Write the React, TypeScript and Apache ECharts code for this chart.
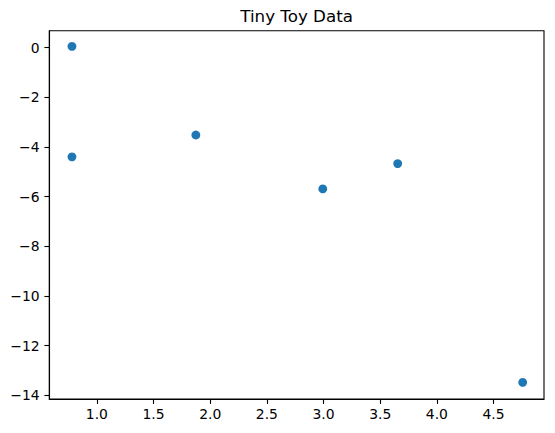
import React, { useEffect, useRef } from "react";
import * as echarts from "echarts";

const xValues = [0.78, 0.78, 1.873, 2.993, 3.654, 4.757];
const yValues = [0.05, -4.4, -3.52, -5.69, -4.67, -13.48];
const xTicks = [1.0, 1.5, 2.0, 2.5, 3.0, 3.5, 4.0, 4.5];
const yTicks = [0, -2, -4, -6, -8, -10, -12, -14];
const title = "Tiny Toy Data";

const FONT = "DejaVu Sans";

export default function App() {
  const ref = useRef<HTMLDivElement>(null);
  useEffect(() => {
    if (!ref.current) return;
    const chart = echarts.init(ref.current, undefined, { renderer: "svg" });
    const points = xValues.map((x, i) => [x, yValues[i]]);
    const fmtNum = (v: number, d: number) => {
      const s = Math.abs(v).toFixed(d);
      return v < 0 ? "\u2212" + s : s;
    };
    chart.setOption({
      animation: false,
      backgroundColor: "#ffffff",
      grid: {
        left: 49.3,
        right: 11,
        top: 30.7,
        bottom: 34,
        containLabel: false,
        show: true,
        borderColor: "#000000",
        borderWidth: 1.1,
        backgroundColor: "transparent",
      },
      graphic: [
        {
          type: "text",
          x: 296.6,
          y: 16,
          style: {
            text: title,
            font: `16.7px "${FONT}"`,
            fill: "#000000",
            textAlign: "center",
            textVerticalAlign: "middle",
          },
        },
      ],
      xAxis: {
        type: "value",
        min: 0.58,
        max: 4.945,
        splitLine: { show: false },
        axisLine: { show: true, onZero: false, lineStyle: { color: "#000", width: 1.1 } },
        axisTick: {
          show: true,
          length: 4.9,
          inside: false,
          customValues: xTicks,
          lineStyle: { color: "#000", width: 1.1 },
        },
        axisLabel: {
          customValues: xTicks,
          margin: 8,
          fontFamily: FONT,
          fontSize: 13.9,
          color: "#000",
          formatter: (v: number) => fmtNum(v, 1),
        },
      },
      yAxis: {
        type: "value",
        min: -14.15,
        max: 0.68,
        splitLine: { show: false },
        axisLine: { show: true, onZero: false, lineStyle: { color: "#000", width: 1.1 } },
        axisTick: {
          show: true,
          length: 4.9,
          inside: false,
          customValues: yTicks,
          lineStyle: { color: "#000", width: 1.1 },
        },
        axisLabel: {
          customValues: yTicks,
          margin: 9.7,
          fontFamily: FONT,
          fontSize: 13.9,
          color: "#000",
          formatter: (v: number) => fmtNum(v, 0),
        },
      },
      series: [
        {
          type: "scatter",
          data: points,
          symbol: "circle",
          symbolSize: 8.8,
          itemStyle: { color: "#1f77b4", opacity: 1 },
        },
      ],
    });
    return () => chart.dispose();
  }, []);
  return (
    <div
      ref={ref}
      style={{ position: "fixed", left: 0, top: 0, width: 555, height: 433, background: "#fff" }}
    />
  );
}
